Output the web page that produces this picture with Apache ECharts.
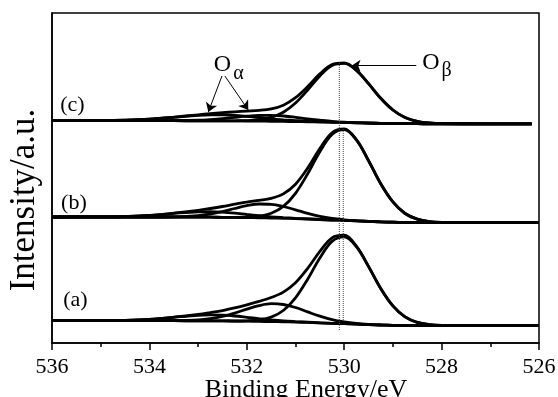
<!DOCTYPE html>
<html>
<head>
<meta charset="utf-8">
<script src="https://cdn.jsdelivr.net/npm/echarts@6/dist/echarts.min.js"></script>
<style>
html, body { margin: 0; padding: 0; background: #fff; }
#box { width: 558px; height: 397px; }
</style>
</head>
<body>
<div id="box"></div>
<script>
// binding energy grid (eV); spectrum (c) stops a little short of 526
var energy = [536, 535, 534.5, 534, 533.5, 533, 532.75, 532.5, 532.25, 532, 531.75, 531.5, 531.25, 531, 530.75, 530.5, 530.25, 530, 529.75, 529.5, 529.25, 529, 528.75, 528.5, 528.25, 528, 527, 526];
var energyC = [536, 535, 534.5, 534, 533.5, 533, 532.75, 532.5, 532.25, 532, 531.75, 531.5, 531.25, 531, 530.75, 530.5, 530.25, 530, 529.75, 529.5, 529.25, 529, 528.75, 528.5, 528.25, 528, 527, 526.15];

// (a)
var baseA = [22.3, 22.3, 22.3, 22.3, 22.3, 22.2, 22.15, 22.05, 21.95, 21.8, 21.6, 21.4, 21.15, 20.9, 20.55, 20.15, 19.7, 19.3, 18.85, 18.4, 18.0, 17.7, 17.5, 17.4, 17.35, 17.3, 17.3, 17.3];
var obA = [22.3, 22.3, 22.3, 22.3, 22.3, 22.2, 22.2, 22.1, 22.0, 22.2, 23.1, 25.9, 32.5, 45.1, 63.8, 85.0, 101.6, 106.1, 96.3, 76.4, 54.5, 37.1, 26.1, 20.6, 18.4, 17.6, 17.3, 17.3];
var oa1A = [22.3, 22.3, 22.3, 22.3, 22.4, 23.1, 24.4, 26.6, 29.9, 33.9, 37.4, 39.3, 38.5, 35.5, 31.1, 26.8, 23.3, 21.0, 19.5, 18.6, 18.1, 17.7, 17.5, 17.4, 17.35, 17.3, 17.3, 17.3];
var oa2A = [22.3, 22.4, 22.6, 23.6, 25.7, 27.7, 28.1, 27.8, 27.0, 25.7, 24.3, 23.1, 22.1, 21.4, 20.8, 20.2, 19.7, 19.3, 18.85, 18.4, 18.0, 17.7, 17.5, 17.4, 17.35, 17.3, 17.3, 17.3];
var envA = [22.3, 22.4, 22.6, 23.6, 25.8, 28.6, 30.4, 32.4, 35.1, 38.2, 41.6, 45.5, 50.9, 60.2, 74.6, 91.6, 105.2, 107.8, 96.9, 76.6, 54.6, 37.1, 26.1, 20.6, 18.4, 17.6, 17.3, 17.3];

// (b)
var baseB = [126.0, 126.0, 126.0, 126.0, 126.0, 125.9, 125.8, 125.7, 125.6, 125.4, 125.2, 125.0, 124.7, 124.4, 124.0, 123.5, 123.0, 122.6, 122.1, 121.6, 121.1, 120.8, 120.5, 120.4, 120.35, 120.3, 120.3, 120.3];
var obB = [126.0, 126.0, 126.0, 126.0, 126.0, 125.9, 125.8, 125.7, 125.7, 125.8, 126.8, 129.7, 136.6, 149.7, 169.2, 191.3, 208.6, 213.4, 203.1, 182.3, 159.3, 141.1, 129.5, 123.8, 121.4, 120.6, 120.3, 120.3];
var oa1B = [126.0, 126.0, 126.0, 126.0, 126.2, 127.4, 129.0, 131.4, 134.5, 137.3, 139.0, 138.7, 136.5, 133.2, 129.6, 126.6, 124.5, 123.2, 122.3, 121.7, 121.1, 120.8, 120.5, 120.4, 120.35, 120.3, 120.3, 120.3];
var oa2B = [126.0, 126.1, 126.4, 127.5, 129.6, 131.2, 131.3, 130.8, 129.8, 128.5, 127.3, 126.2, 125.4, 124.7, 124.1, 123.5, 123.0, 122.6, 122.1, 121.6, 121.1, 120.8, 120.5, 120.4, 120.35, 120.3, 120.3, 120.3];
var envB = [126.0, 126.1, 126.4, 127.5, 129.8, 132.7, 134.5, 136.5, 138.8, 140.9, 142.6, 144.6, 149.1, 158.8, 174.9, 194.4, 210.1, 214.0, 203.3, 182.4, 159.3, 141.1, 129.5, 123.8, 121.4, 120.6, 120.3, 120.3];

// (c)
var baseC = [222.3, 222.3, 222.3, 222.3, 222.3, 222.2, 222.2, 222.1, 222.1, 222.0, 221.9, 221.7, 221.6, 221.4, 221.2, 221.0, 220.7, 220.4, 220.2, 219.9, 219.6, 219.4, 219.3, 219.3, 219.2, 219.2, 219.2, 219.2];
var obC = [222.3, 222.3, 222.3, 222.3, 222.3, 222.2, 222.2, 222.1, 222.2, 222.4, 223.3, 225.6, 230.8, 240.0, 253.0, 267.1, 277.5, 279.6, 272.6, 259.3, 244.7, 233.0, 225.5, 221.7, 220.0, 219.4, 219.2, 219.2];
var oa1C = [222.3, 222.3, 222.3, 222.3, 222.4, 222.8, 223.4, 224.3, 225.6, 226.8, 227.6, 227.7, 227.0, 225.7, 224.1, 222.8, 221.6, 220.8, 220.4, 220.0, 219.6, 219.4, 219.3, 219.3, 219.2, 219.2, 219.2, 219.2];
var oa2C = [222.3, 222.4, 222.8, 223.8, 225.7, 227.6, 228.1, 228.1, 227.6, 226.6, 225.5, 224.2, 223.2, 222.4, 221.7, 221.3, 220.8, 220.4, 220.2, 219.9, 219.6, 219.4, 219.3, 219.3, 219.2, 219.2, 219.2, 219.2];
var envC = [222.3, 222.4, 222.8, 223.8, 225.8, 228.2, 229.3, 230.3, 231.2, 231.9, 232.6, 234.1, 237.8, 245.3, 256.4, 269.1, 278.5, 280.1, 272.8, 259.4, 244.7, 233.0, 225.5, 221.7, 220.0, 219.4, 219.2, 219.2];

// dotted peak markers
var dropE = [530.10, 530.02];
var dropTop = [280, 214];
var dropBottom = [13, 22];

// arrows (from -> to)
var arrowFromE = [532.51, 532.45, 528.52];
var arrowFromV = [267, 267, 277.3];
var arrowToE = [532.79, 531.97, 529.85];
var arrowToV = [231, 233, 277.3];

// text annotations
var sampleNames = ['(a)', '(b)', '(c)'];
var sampleE = [535.52, 535.55, 535.58];
var sampleV = [43, 140, 238];

var serif = '"Liberation Serif", "Times New Roman", serif';

function pairs(xs, ys) {
  return xs.map(function (x, i) { return [x, ys[i]]; });
}

function curve(xs, ys) {
  return {
    type: 'line',
    data: pairs(xs, ys),
    symbol: 'none',
    smooth: 0.35,
    silent: true,
    lineStyle: { color: '#000', width: 2.8 }
  };
}

var series = [
  curve(energy, baseA), curve(energy, oa2A), curve(energy, oa1A), curve(energy, obA), curve(energy, envA),
  curve(energy, baseB), curve(energy, oa2B), curve(energy, oa1B), curve(energy, obB), curve(energy, envB),
  curve(energyC, baseC), curve(energyC, oa2C), curve(energyC, oa1C), curve(energyC, obC), curve(energyC, envC)
];

dropE.forEach(function (e, i) {
  series.push({
    type: 'line',
    data: [[e, dropTop[i]], [e, dropBottom[i]]],
    symbol: 'none',
    silent: true,
    lineStyle: { color: '#444', width: 1, type: 'dotted' }
  });
});

series.push({
  type: 'line',
  data: [],
  symbol: 'none',
  markLine: {
    silent: true,
    symbol: ['none', 'arrow'],
    symbolSize: 9,
    label: { show: false },
    lineStyle: { color: '#000', width: 1, type: 'solid' },
    data: arrowFromE.map(function (e, i) {
      return [{ coord: [e, arrowFromV[i]] }, { coord: [arrowToE[i], arrowToV[i]] }];
    })
  }
});

var option = {
  animation: false,
  backgroundColor: '#fff',
  grid: {
    left: 52, right: 19, top: 13, bottom: 54,
    outerBoundsMode: 'none',
    containLabel: false,
    show: true, borderColor: '#000', borderWidth: 1.5
  },
  xAxis: {
    type: 'value',
    min: 526,
    max: 536,
    interval: 2,
    inverse: true,
    name: 'Binding Energy/eV',
    nameLocation: 'middle',
    nameGap: 34,
    nameMoveOverlap: false,
    nameTextStyle: { fontFamily: serif, fontSize: 26, color: '#000', padding: [0, 0, 0, 21] },
    axisLine: { lineStyle: { color: '#000', width: 1.5 } },
    axisTick: { inside: false, length: 7, lineStyle: { color: '#000', width: 1.5 } },
    minorTick: { show: true, splitNumber: 2, length: 4, lineStyle: { color: '#000', width: 1.5 } },
    axisLabel: { fontFamily: serif, fontSize: 22, color: '#000', margin: 13 },
    splitLine: { show: false }
  },
  yAxis: {
    type: 'value',
    min: 0,
    max: 330,
    name: 'Intensity/a.u.',
    nameLocation: 'middle',
    nameGap: 10,
    nameMoveOverlap: false,
    nameTextStyle: { fontFamily: serif, fontSize: 35, color: '#000', padding: [0, 44, 0, 0] },
    axisLine: { show: true, lineStyle: { color: '#000', width: 1.5 } },
    axisTick: { show: false },
    axisLabel: { show: false },
    splitLine: { show: false }
  },
  series: series
};

var chart = echarts.init(document.getElementById('box'));
chart.setOption(option);

function textAt(e, v, str, size) {
  var p = chart.convertToPixel({ gridIndex: 0 }, [e, v]);
  return {
    type: 'text',
    x: p[0],
    y: p[1],
    silent: true,
    style: {
      text: str,
      fontFamily: serif,
      fontSize: size,
      fill: '#000',
      align: 'center',
      verticalAlign: 'middle',
      textAlign: 'center',
      textVerticalAlign: 'middle'
    }
  };
}

var labels = sampleNames.map(function (s, i) { return textAt(sampleE[i], sampleV[i], s, 22); });
labels.push(textAt(532.50, 278.5, 'O', 24));
labels.push(textAt(532.17, 269, 'α', 20));
labels.push(textAt(528.22, 280.5, 'O', 24));
labels.push(textAt(527.90, 272, 'β', 20));

chart.setOption({ graphic: labels });
</script>
</body>
</html>
